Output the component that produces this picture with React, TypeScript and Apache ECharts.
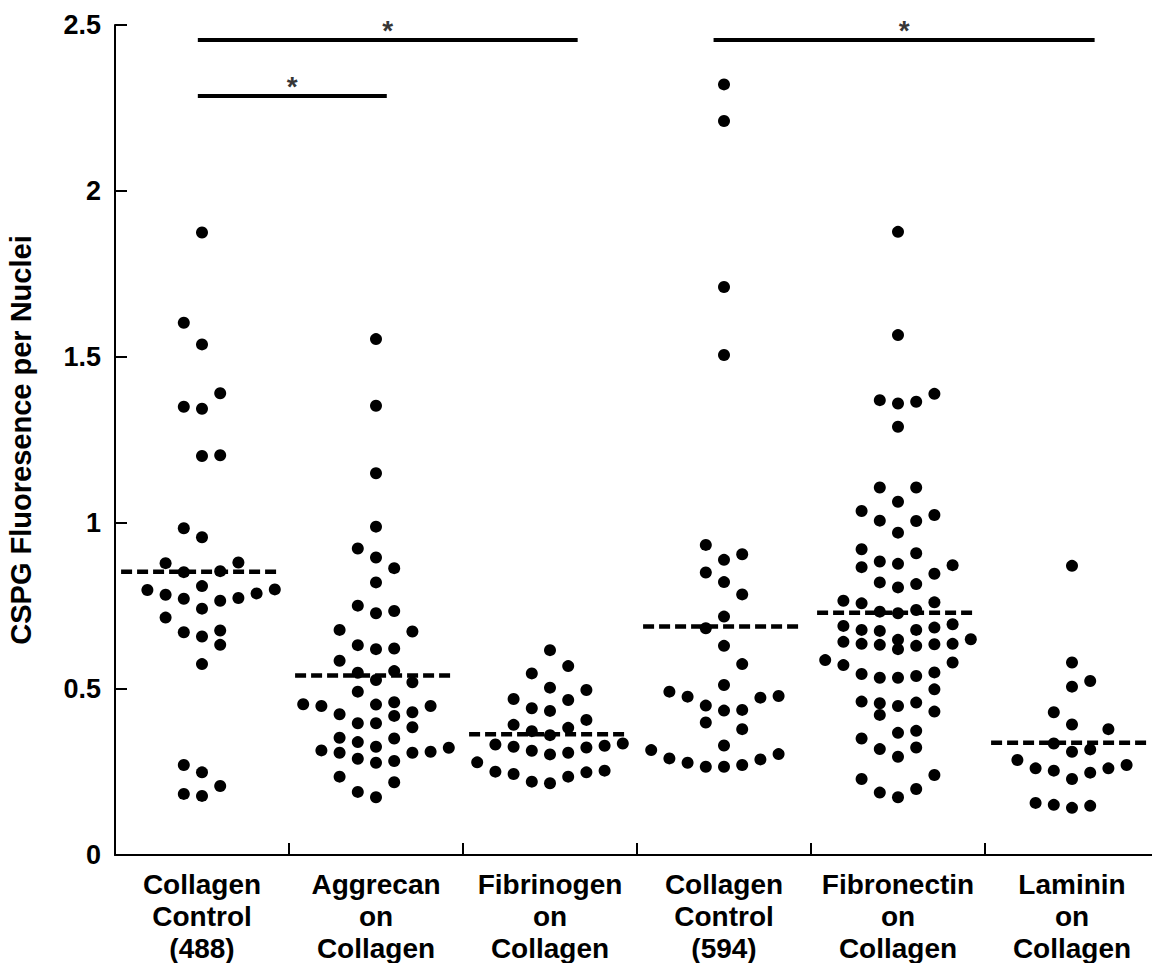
import React, { useEffect, useRef } from "react";
import * as echarts from "echarts";

const categories = [
  "Collagen\nControl\n(488)",
  "Aggrecan\non\nCollagen",
  "Fibrinogen\non\nCollagen",
  "Collagen\nControl\n(594)",
  "Fibronectin\non\nCollagen",
  "Laminin\non\nCollagen",
];

// each point: [swarm column index, CSPG fluorescence per nuclei]
const collagen488: [number, number][] = [
  [0, 1.875], [-1, 1.603], [0, 1.538], [1, 1.391], [-1, 1.35], [0, 1.344], [0, 1.202], [1, 1.204],
  [-1, 0.984], [0, 0.957], [-2, 0.879], [2, 0.881], [-1, 0.852], [1, 0.855], [-3, 0.798], [-2, 0.784],
  [0, 0.81], [-1, 0.772], [1, 0.766], [2, 0.774], [3, 0.788], [4, 0.8], [0, 0.742], [-2, 0.715],
  [-1, 0.671], [0, 0.658], [1, 0.676], [1, 0.633], [0, 0.575], [-1, 0.271], [0, 0.249], [1, 0.208],
  [-1, 0.184], [0, 0.178],
];
const aggrecan: [number, number][] = [
  [0, 1.554], [0, 1.353], [0, 1.15], [0, 0.989], [-1, 0.923], [0, 0.896], [1, 0.864], [0, 0.821],
  [-1, 0.751], [0, 0.728], [1, 0.735], [-2, 0.678], [2, 0.673], [-1, 0.632], [0, 0.62], [1, 0.622],
  [-2, 0.585], [-1, 0.549], [1, 0.554], [0, 0.527], [2, 0.52], [-1, 0.492], [-4, 0.454], [-3, 0.449],
  [-2, 0.424], [0, 0.453], [1, 0.46], [2, 0.43], [3, 0.449], [-1, 0.397], [0, 0.397], [1, 0.419],
  [2, 0.385], [-2, 0.353], [-1, 0.34], [1, 0.351], [-3, 0.315], [-2, 0.308], [0, 0.326], [2, 0.308],
  [3, 0.311], [4, 0.323], [-1, 0.29], [0, 0.278], [1, 0.283], [-2, 0.236], [1, 0.219], [-1, 0.19],
  [0, 0.174],
];
const fibrinogen: [number, number][] = [
  [0, 0.617], [1, 0.569], [-1, 0.547], [0, 0.504], [2, 0.497], [-2, 0.47], [1, 0.467], [-1, 0.442],
  [0, 0.434], [-2, 0.392], [2, 0.407], [-1, 0.373], [1, 0.383], [0, 0.361], [-3, 0.333], [-2, 0.326],
  [-1, 0.314], [0, 0.303], [1, 0.308], [2, 0.324], [3, 0.329], [4, 0.336], [-4, 0.279], [-3, 0.251],
  [-2, 0.244], [-1, 0.221], [0, 0.216], [1, 0.236], [2, 0.249], [3, 0.254],
];
const collagen594: [number, number][] = [
  [0, 2.321], [0, 2.211], [0, 1.711], [0, 1.506], [-1, 0.934], [0, 0.889], [1, 0.906], [-1, 0.851],
  [0, 0.822], [1, 0.785], [0, 0.718], [-1, 0.683], [0, 0.63], [1, 0.575], [0, 0.512], [-3, 0.492],
  [-2, 0.477], [2, 0.474], [3, 0.479], [-1, 0.45], [0, 0.435], [1, 0.437], [-1, 0.399], [1, 0.379],
  [0, 0.33], [-4, 0.316], [-3, 0.291], [-2, 0.278], [-1, 0.266], [0, 0.266], [1, 0.271], [2, 0.288],
  [3, 0.304],
];
const fibronectin: [number, number][] = [
  [0, 1.877], [0, 1.566], [-1, 1.37], [0, 1.36], [1, 1.365], [2, 1.389], [0, 1.29], [-1, 1.107],
  [1, 1.107], [0, 1.064], [-2, 1.036], [-1, 1.007], [1, 1.006], [2, 1.024], [0, 0.971], [-2, 0.921],
  [1, 0.909], [-2, 0.867], [-1, 0.884], [0, 0.877], [3, 0.873], [2, 0.847], [-1, 0.821], [0, 0.806],
  [1, 0.816], [-3, 0.766], [-2, 0.758], [2, 0.761], [-1, 0.733], [0, 0.728], [1, 0.738], [-3, 0.69],
  [-2, 0.678], [-1, 0.675], [1, 0.678], [2, 0.685], [3, 0.695], [-3, 0.642], [-2, 0.636], [-1, 0.633],
  [0, 0.648], [0, 0.62], [1, 0.63], [2, 0.635], [3, 0.636], [4, 0.65], [-4, 0.587], [-3, 0.572],
  [3, 0.58], [-2, 0.545], [-1, 0.534], [0, 0.534], [1, 0.539], [2, 0.55], [2, 0.499], [-2, 0.462],
  [-1, 0.457], [-1, 0.422], [0, 0.449], [1, 0.459], [2, 0.432], [0, 0.368], [1, 0.374], [-2, 0.351],
  [-1, 0.319], [0, 0.296], [1, 0.324], [-2, 0.229], [2, 0.241], [-1, 0.188], [0, 0.174], [1, 0.199],
];
const laminin: [number, number][] = [
  [0, 0.871], [0, 0.58], [1, 0.524], [0, 0.507], [-1, 0.43], [0, 0.393], [2, 0.379], [-1, 0.336],
  [0, 0.311], [1, 0.318], [-3, 0.286], [-2, 0.261], [-1, 0.254], [0, 0.229], [1, 0.248], [2, 0.261],
  [3, 0.271], [-2, 0.157], [-1, 0.151], [0, 0.142], [1, 0.148],
];

const groups = [collagen488, aggrecan, fibrinogen, collagen594, fibronectin, laminin];
const groupMeans = [0.853, 0.541, 0.364, 0.688, 0.73, 0.338];

// significance brackets (x in category units, 0..6)
const sigStart = [0.476, 0.476, 3.44];
const sigEnd = [2.659, 1.562, 5.63];
const sigLevel = [2.455, 2.286, 2.455];
const sigMark = ["*", "*", "*"];

const yMin = 0;
const yMax = 2.5;
const yInterval = 0.5;

const FONT = "'Liberation Sans', Arial, sans-serif";
const COL_STEP = 0.1046;
const MEAN_LEFT = 0.035;
const MEAN_RIGHT = 0.945;

export default function App() {
  const ref = useRef<HTMLDivElement>(null);

  useEffect(() => {
    document.body.style.margin = "0";
    if (!ref.current) return;
    const chart = echarts.init(ref.current, undefined, { renderer: "svg" });

    const series: any[] = [];
    groups.forEach((pts, gi) => {
      series.push({
        type: "scatter",
        xAxisIndex: 1,
        symbol: "circle",
        symbolSize: 12,
        itemStyle: { color: "#000", opacity: 1 },
        data: pts.map(([c, v]) => [gi + 0.5 + c * COL_STEP, v]),
        z: 3,
      });
    });
    groupMeans.forEach((m, gi) => {
      series.push({
        type: "line",
        xAxisIndex: 1,
        symbol: "none",
        lineStyle: { color: "#000", width: 4.5, type: [11, 5] },
        data: [
          [gi + MEAN_LEFT, m],
          [gi + MEAN_RIGHT, m],
        ],
        z: 4,
      });
    });
    sigLevel.forEach((lv, i) => {
      series.push({
        type: "line",
        xAxisIndex: 1,
        symbol: "none",
        lineStyle: { color: "#000", width: 4 },
        data: [
          [sigStart[i], lv],
          [sigEnd[i], lv],
        ],
        z: 4,
      });
    });
    series.push({
      type: "scatter",
      xAxisIndex: 1,
      symbolSize: 1,
      itemStyle: { color: "rgba(0,0,0,0)" },
      label: {
        show: true,
        position: "top",
        distance: -5,
        formatter: (p: any) => sigMark[p.dataIndex],
        color: "#000",
        fontSize: 28,
        fontWeight: "bold",
        fontFamily: FONT,
      },
      data: sigLevel.map((lv, i) => [(sigStart[i] + sigEnd[i]) / 2, lv]),
      z: 5,
    });

    const axisText = {
      color: "#000",
      fontSize: 27,
      fontWeight: "bold" as const,
      fontFamily: FONT,
    };

    chart.setOption({
      animation: false,
      backgroundColor: "#fff",
      grid: {
        left: 115,
        right: -7,
        top: 25,
        bottom: 108,
        containLabel: false,
        outerBoundsMode: "none",
      },
      xAxis: [
        {
          type: "category",
          data: categories,
          boundaryGap: true,
          axisLine: { show: true, lineStyle: { color: "#000", width: 2 } },
          axisTick: { show: true, inside: true, length: 12, lineStyle: { color: "#000", width: 2 } },
          axisLabel: { ...axisText, fontSize: 28, lineHeight: 32, margin: 13, interval: 0 },
          splitLine: { show: false },
        },
        {
          type: "value",
          min: 0,
          max: 6,
          show: false,
          splitLine: { show: false },
        },
      ],
      yAxis: {
        type: "value",
        min: yMin,
        max: yMax,
        interval: yInterval,
        name: "CSPG Fluoresence per Nuclei",
        nameLocation: "middle",
        nameGap: 80,
        nameTextStyle: { ...axisText, fontSize: 29 },
        axisLine: { show: true, lineStyle: { color: "#000", width: 2 } },
        axisTick: { show: true, inside: true, length: 12, lineStyle: { color: "#000", width: 2 } },
        axisLabel: { ...axisText, margin: 14 },
        splitLine: { show: false },
      },
      series,
    });

    return () => {
      chart.dispose();
    };
  }, []);

  return <div ref={ref} style={{ width: 1152, height: 963 }} />;
}
